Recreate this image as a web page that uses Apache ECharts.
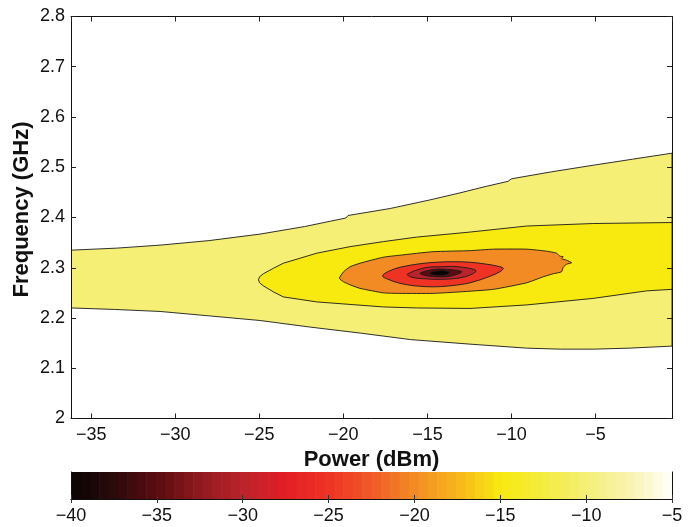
<!DOCTYPE html>
<html>
<head>
<meta charset="utf-8">
<title>Power / Frequency contour</title>
<script src="https://cdn.jsdelivr.net/npm/echarts@6/dist/echarts.min.js"></script>
<style>
html, body { margin: 0; padding: 0; background: #fff; }
#main { width: 694px; height: 527px; }
</style>
</head>
<body>
<div id="main"></div>
<script>
// contour outlines, points are [power dBm, frequency GHz]
var contourM10 = [
  [-36.2, 2.335], [-33.5, 2.339], [-30.9, 2.345], [-28.0, 2.354], [-24.95, 2.367], [-22.3, 2.382],
  [-19.85, 2.399], [-19.72, 2.404], [-17.2, 2.418], [-14.85, 2.435], [-13.06, 2.449], [-11.5, 2.462],
  [-10.2, 2.472], [-10.0, 2.477], [-7.6, 2.491], [-5.14, 2.504], [-2.8, 2.516], [-0.45, 2.528],
  [-0.45, 2.144], [-3.0, 2.140], [-5.1, 2.138], [-7.1, 2.138], [-9.1, 2.140], [-12.47, 2.148],
  [-16.0, 2.157], [-19.0, 2.170], [-22.0, 2.182], [-24.95, 2.195], [-27.9, 2.204], [-30.9, 2.213],
  [-33.6, 2.217], [-36.2, 2.220]
];
var contourM15 = [
  [-25.05, 2.276], [-24.98, 2.282], [-24.76, 2.288], [-24.16, 2.299], [-23.57, 2.309], [-22.57, 2.319],
  [-21.58, 2.329], [-19.6, 2.342], [-17.62, 2.352], [-15.64, 2.361], [-12.47, 2.371], [-9.1, 2.383],
  [-5.14, 2.388], [-0.45, 2.390],
  [-0.45, 2.257], [-1.96, 2.254], [-5.14, 2.239], [-9.1, 2.226], [-12.47, 2.219], [-15.64, 2.220],
  [-17.62, 2.222], [-19.6, 2.227], [-21.58, 2.232], [-22.57, 2.237], [-23.57, 2.242], [-24.16, 2.252],
  [-24.76, 2.264], [-24.98, 2.270]
];
var contourM20 = [
  [-20.24, 2.279], [-19.99, 2.292], [-19.6, 2.302], [-19.01, 2.309], [-17.62, 2.321], [-16.63, 2.325],
  [-14.65, 2.332], [-12.47, 2.334], [-11.08, 2.337], [-9.1, 2.337], [-7.91, 2.333], [-7.31, 2.329],
  [-7.12, 2.323], [-6.92, 2.322], [-7.02, 2.318], [-6.72, 2.315], [-6.42, 2.310], [-6.72, 2.307],
  [-6.92, 2.301], [-7.02, 2.292], [-7.52, 2.288], [-8.11, 2.282], [-9.1, 2.270], [-11.08, 2.257],
  [-13.06, 2.252], [-14.65, 2.249], [-16.63, 2.249], [-17.62, 2.250], [-19.01, 2.259], [-19.6, 2.266],
  [-19.99, 2.272]
];
var contourM25 = [
  [-17.67, 2.284], [-17.3, 2.293], [-16.63, 2.301], [-15.44, 2.308], [-14.45, 2.311], [-13.48, 2.312],
  [-12.47, 2.311], [-11.46, 2.307], [-10.8, 2.303], [-10.49, 2.299], [-10.69, 2.292], [-11.28, 2.283],
  [-12.47, 2.270], [-13.66, 2.264], [-14.65, 2.262], [-15.74, 2.264], [-16.63, 2.269], [-17.34, 2.277]
];
var contourM30 = [
  [-16.19, 2.287], [-15.14, 2.300], [-14.25, 2.302], [-13.18, 2.302], [-12.11, 2.294],
  [-12.77, 2.282], [-14.05, 2.277], [-15.14, 2.278], [-15.92, 2.281]
];
var contourM35 = [
  [-15.44, 2.289], [-14.73, 2.296], [-13.95, 2.297], [-12.96, 2.292],
  [-13.66, 2.283], [-14.55, 2.282], [-15.2, 2.285]
];
var contourM40 = [
  [-14.85, 2.289], [-14.5, 2.293], [-14.05, 2.294], [-13.7, 2.291],
  [-13.9, 2.286], [-14.3, 2.285], [-14.65, 2.286]
];
var levels = [-10, -15, -20, -25, -30, -35, -40];
var outlines = [contourM10, contourM15, contourM20, contourM25, contourM30, contourM35, contourM40];
var smoothing = [0, 0, 0.15, 0.35, 0.35, 0.35, 0.35];

// colour map (hot-like)
var cmapValues = [-40, -37.5, -35, -32.5, -30, -27.5, -25, -22.5, -20, -17.5, -15, -12.5, -10, -7.5, -5];
var cmapColors = ['#0a0404', '#2b0a0b', '#5a0c10', '#8f1a1f', '#bb232b', '#e31e26', '#ee3325', '#f05a27',
                  '#f38b24', '#f7b51c', '#f8e90f', '#f3ec3e', '#f5ef76', '#f8f3b0', '#fffffa'];

function hexRgb(h) {
  return [parseInt(h.substr(1, 2), 16), parseInt(h.substr(3, 2), 16), parseInt(h.substr(5, 2), 16)];
}
function cmap(v) {
  if (v <= cmapValues[0]) return cmapColors[0];
  for (var i = 1; i < cmapValues.length; i++) {
    if (v <= cmapValues[i]) {
      var t = (v - cmapValues[i - 1]) / (cmapValues[i] - cmapValues[i - 1]);
      var a = hexRgb(cmapColors[i - 1]), b = hexRgb(cmapColors[i]);
      return 'rgb(' + Math.round(a[0] + (b[0] - a[0]) * t) + ',' + Math.round(a[1] + (b[1] - a[1]) * t) + ',' + Math.round(a[2] + (b[2] - a[2]) * t) + ')';
    }
  }
  return cmapColors[cmapColors.length - 1];
}

// colour bar bands (64 steps like the matlab colormap)
var cbMin = -40, cbMax = -5, cbSteps = 64;
var cbBands = [];
for (var k = 0; k < cbSteps; k++) {
  cbBands.push([cbMin + (cbMax - cbMin) * k / cbSteps, cbMin + (cbMax - cbMin) * (k + 1) / cbSteps]);
}

var FONT = 'Liberation Sans, Arial, Helvetica, sans-serif';
var minus = function (v) { return String(v).replace('-', '\u2212'); };
var lineStyle = { color: '#111', width: 1 };
var tickStyle = { show: true, inside: true, length: 5, lineStyle: { color: '#222', width: 1 } };
var labelStyle = { color: '#111', fontSize: 18, fontFamily: FONT };

var chart = echarts.init(document.getElementById('main'));
chart.setOption({
  animation: false,
  grid: [
    { left: 71, right: 22, top: 16.5, bottom: 108.5 },
    { left: 71, right: 22, top: 472, height: 27 }
  ],
  xAxis: [
    {
      type: 'value', gridIndex: 0, position: 'bottom', min: -36.2, max: -0.45, splitNumber: 7, z: 10,
      name: 'Power (dBm)', nameLocation: 'middle', nameGap: 24,
      nameTextStyle: { fontSize: 22, fontWeight: 'bold', fontFamily: FONT, color: '#111' },
      axisLine: { show: true, lineStyle: lineStyle }, axisTick: tickStyle, splitLine: { show: false },
      axisLabel: Object.assign({ margin: 8, showMinLabel: false, showMaxLabel: false, formatter: minus }, labelStyle)
    },
    {
      type: 'value', gridIndex: 0, position: 'top', min: -36.2, max: -0.45, splitNumber: 7, z: 10,
      axisLine: { show: true, lineStyle: lineStyle }, axisTick: tickStyle,
      axisLabel: { show: false }, splitLine: { show: false }
    },
    {
      type: 'value', gridIndex: 1, position: 'bottom', min: -40, max: -5, interval: 5, z: 10,
      axisLine: { show: true, lineStyle: lineStyle },
      axisTick: { show: true, inside: true, length: 4, lineStyle: { color: '#333', width: 1 } },
      axisLabel: Object.assign({ margin: 8, formatter: minus }, labelStyle), splitLine: { show: false }
    },
    {
      type: 'value', gridIndex: 1, position: 'top', min: -40, max: -5, interval: 5, z: 10,
      axisLine: { show: true, lineStyle: lineStyle },
      axisTick: { show: true, inside: true, length: 4, lineStyle: { color: '#333', width: 1 } },
      axisLabel: { show: false }, splitLine: { show: false }
    }
  ],
  yAxis: [
    {
      type: 'value', gridIndex: 0, position: 'left', min: 2, max: 2.8, interval: 0.1, z: 10,
      name: 'Frequency (GHz)', nameLocation: 'middle', nameGap: 38, nameRotate: 90, nameMoveOverlap: false,
      nameTextStyle: { fontSize: 22, fontWeight: 'bold', fontFamily: FONT, color: '#111', padding: [0, 0, 0, 16] },
      axisLine: { show: true, lineStyle: lineStyle }, axisTick: tickStyle, splitLine: { show: false },
      axisLabel: Object.assign({ margin: 6 }, labelStyle)
    },
    {
      type: 'value', gridIndex: 0, position: 'right', min: 2, max: 2.8, interval: 0.1, z: 10,
      axisLine: { show: true, lineStyle: lineStyle }, axisTick: tickStyle,
      axisLabel: { show: false }, splitLine: { show: false }
    },
    {
      type: 'value', gridIndex: 1, position: 'left', min: 0, max: 1, z: 10,
      axisLine: { show: true, lineStyle: lineStyle }, axisTick: { show: false },
      axisLabel: { show: false }, splitLine: { show: false }
    },
    {
      type: 'value', gridIndex: 1, position: 'right', min: 0, max: 1, z: 10,
      axisLine: { show: true, lineStyle: lineStyle }, axisTick: { show: false },
      axisLabel: { show: false }, splitLine: { show: false }
    }
  ],
  series: [
    {
      type: 'custom', xAxisIndex: 0, yAxisIndex: 0, clip: true,
      data: outlines.map(function (o, i) { return [o[0][0], o[0][1], i]; }),
      renderItem: function (params, api) {
        var i = api.value(2);
        var pts = outlines[i].map(function (p) { return api.coord(p); });
        return {
          type: 'polygon',
          shape: { points: pts, smooth: smoothing[i] },
          style: { fill: cmap(levels[i]), stroke: '#1a1a1a', lineWidth: 0.9 }
        };
      }
    },
    {
      type: 'custom', xAxisIndex: 2, yAxisIndex: 2,
      data: cbBands,
      renderItem: function (params, api) {
        var a = api.value(0), b = api.value(1);
        var p0 = api.coord([a, 1]), p1 = api.coord([b, 0]);
        return {
          type: 'rect',
          shape: { x: p0[0], y: p0[1], width: p1[0] - p0[0] + 0.6, height: p1[1] - p0[1] },
          style: { fill: cmap((a + b) / 2) }
        };
      }
    }
  ]
});
</script>
</body>
</html>
